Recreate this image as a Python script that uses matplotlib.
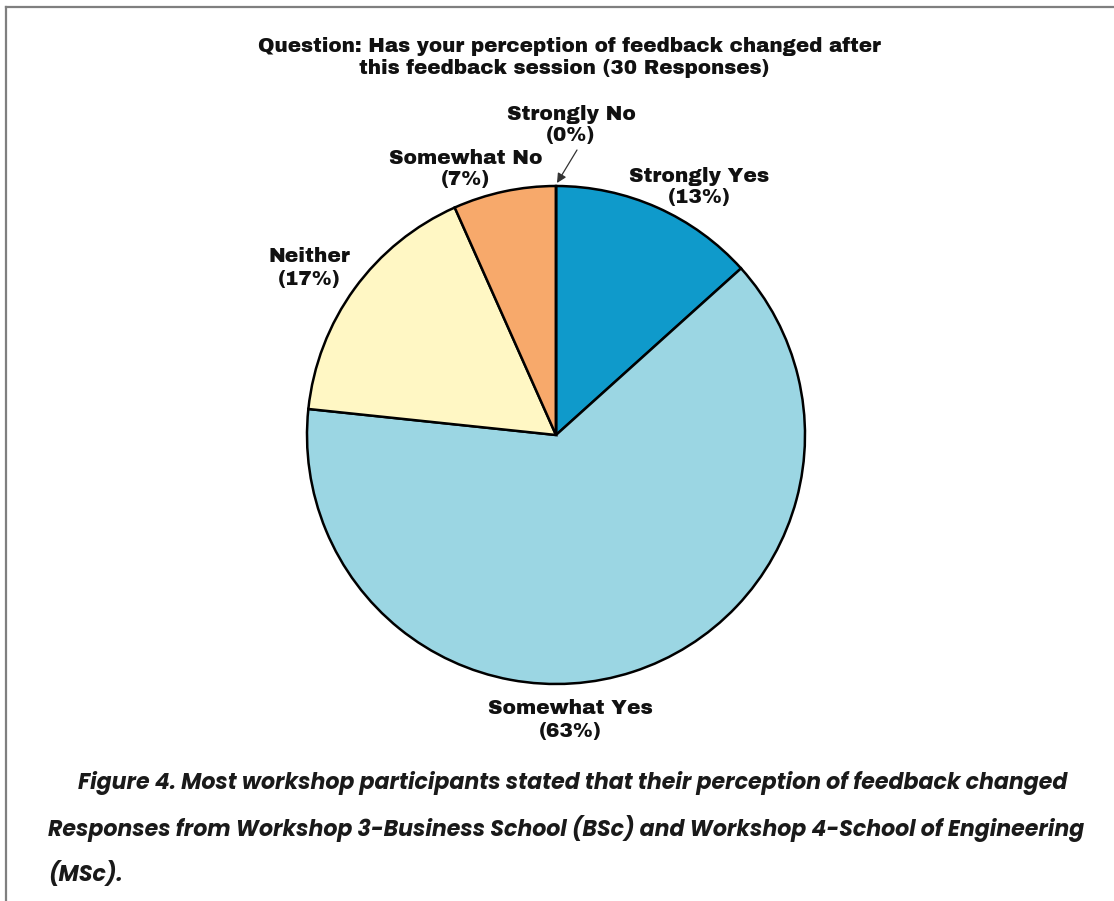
import matplotlib
matplotlib.use("Agg")
import matplotlib.pyplot as plt
from matplotlib.lines import Line2D

# ---- data ----
categories = ["Strongly Yes", "Somewhat Yes", "Neither", "Somewhat No", "Strongly No"]
counts = [4, 19, 5, 2, 0]          # out of 30 responses
percent_labels = ["13%", "63%", "17%", "7%", "0%"]
colors = ["#0f9acb", "#9bd6e3", "#fff7c4", "#f7a96b", "#d9534f"]

title_lines = ["Question: Has your perception of feedback changed after",
               "this feedback session (30 Responses)"]
caption_lines = ["Figure 4. Most workshop participants stated that their perception of feedback changed",
                 "Responses from Workshop 3-Business School (BSc) and Workshop 4-School of Engineering",
                 "(MSc)."]

W, H = 1114, 901
fig = plt.figure(figsize=(W / 100, H / 100), dpi=100)
ax = fig.add_axes([0, 0, 1, 1])
ax.axis("off")

def Y(y):
    return H - y

# frame lines (top and left)
fig.add_artist(Line2D([6 / W, 1], [Y(7) / H, Y(7) / H], color="#7f7f7f", lw=1.6))
fig.add_artist(Line2D([6 / W, 6 / W], [0, Y(7) / H], color="#7f7f7f", lw=1.6))

# pie
ax.pie(counts, colors=colors, startangle=90, counterclock=False,
       center=(556, Y(435)), radius=249,
       wedgeprops=dict(edgecolor="black", linewidth=1.8))
ax.set_xlim(0, W)
ax.set_ylim(0, H)
ax.set_aspect("auto")

heavy = ["Archivo Black", "DejaVu Sans"]

# title
tfont = dict(family=heavy, fontsize=14.3, color="#111111", ha="center", va="center")
ax.text(569, Y(46), title_lines[0], **tfont)
ax.text(564, Y(69), title_lines[1], **tfont)

# slice labels
lfont = dict(family=heavy, fontsize=14.5, color="#111111",
             ha="center", va="center", linespacing=1.2)
label_pos = {
    "Strongly Yes": (699, 187),
    "Somewhat Yes": (570, 720),
    "Neither": (309, 268),
    "Somewhat No": (466, 169),
    "Strongly No": (571, 125),
}
for cat, pct in zip(categories, percent_labels):
    x, y = label_pos[cat]
    ax.text(x, Y(y), f"{cat}\n({pct})", **lfont)

# arrow for the 0% slice
ax.annotate("", xy=(557, Y(183)), xytext=(577, Y(150)),
            arrowprops=dict(arrowstyle="-|>", color="#333333", lw=0.9,
                            mutation_scale=14, shrinkA=0, shrinkB=0))

# caption
cfont = dict(family=["Poppins", "Roboto", "DejaVu Sans"], weight="bold", style="italic",
             fontsize=15.9, color="#1a1a1a", ha="left", va="center")
ax.text(78, Y(783), caption_lines[0], **cfont)
ax.text(48, Y(829), caption_lines[1], **cfont)
ax.text(48, Y(874), caption_lines[2], **cfont)

fig.savefig("out.png", dpi=100)
